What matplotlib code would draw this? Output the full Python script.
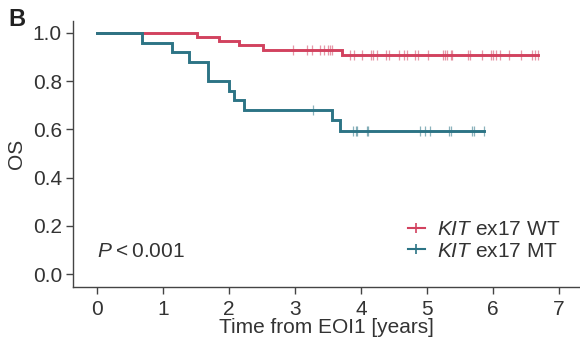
import numpy as np
import matplotlib
matplotlib.use('Agg')
import matplotlib.pyplot as plt
from matplotlib.lines import Line2D

plt.rcParams['font.family'] = ['Liberation Sans', 'DejaVu Sans']
plt.rcParams['mathtext.fontset'] = 'custom'
plt.rcParams['mathtext.it'] = 'Liberation Sans:italic'
plt.rcParams['mathtext.rm'] = 'Liberation Sans'

# Kaplan-Meier curves
wt_times = [0, 1.51, 1.85, 2.16, 2.51, 3.72]
wt_surv = [1.0, 0.985, 0.965, 0.949, 0.931, 0.908]
wt_end = 6.69
wt_censor = [2.97, 3.19, 3.26, 3.38, 3.44, 3.50, 3.53, 3.56, 3.84, 3.89, 4.02,
             4.15, 4.19, 4.25, 4.38, 4.42, 4.58, 4.66, 4.70, 4.82, 4.86, 5.02,
             5.25, 5.28, 5.31, 5.36, 5.38, 5.62, 5.65, 5.84, 5.97, 6.00, 6.05,
             6.11, 6.24, 6.43, 6.59, 6.64, 6.69]

mt_times = [0, 0.69, 1.14, 1.40, 1.69, 2.00, 2.08, 2.23, 3.57, 3.69]
mt_surv = [1.0, 0.96, 0.92, 0.88, 0.80, 0.76, 0.72, 0.68, 0.6375, 0.595]
mt_end = 5.86
mt_censor = [3.27, 3.88, 3.92, 3.94, 4.10, 4.11, 4.90, 4.97, 5.05, 5.33, 5.36,
             5.69, 5.71, 5.86]

red = '#D2425F'
teal = '#2C7485'
txt = '#333333'


def surv_at(times, surv, t):
    i = np.searchsorted(times, t, side='right') - 1
    return np.array(surv)[i]


fig = plt.figure(figsize=(5.8, 3.43), dpi=100)
ax = fig.add_axes([0.126, 0.163, 0.874, 0.776])

for times, surv, end, cens, c in [(wt_times, wt_surv, wt_end, wt_censor, red),
                                  (mt_times, mt_surv, mt_end, mt_censor, teal)]:
    x = list(times) + [end]
    y = list(surv) + [surv[-1]]
    ax.step(x, y, where='post', color=c, lw=2.1, solid_joinstyle='miter')
    ax.plot(cens, surv_at(times, surv, cens), ls='none', marker='|',
            ms=7, mew=0.9, color=c, alpha=0.55)

ax.set_xlim(-0.36, 7.32)
ax.set_ylim(-0.054, 1.05)
ax.set_xticks(range(8))
ax.set_yticks([0, 0.2, 0.4, 0.6, 0.8, 1.0])
ax.set_yticklabels(['0.0', '0.2', '0.4', '0.6', '0.8', '1.0'])
for s in ['top', 'right']:
    ax.spines[s].set_visible(False)
for s in ['left', 'bottom']:
    ax.spines[s].set_color('#444444')
    ax.spines[s].set_linewidth(1)
ax.tick_params(colors='#444444', labelcolor=txt, labelsize=15, length=5,
               width=1)
ax.tick_params(axis='x', pad=4.5)
ax.tick_params(axis='y', pad=3)
ax.set_xlabel('Time from EOI1 [years]', fontsize=15, color=txt, va='center')
ax.xaxis.set_label_coords(0.5, -0.153)
ax.set_ylabel('OS', fontsize=15, color=txt, labelpad=5)

ax.text(0.047, 0.113, '$P$\u2009<\u20090.001', fontsize=15, color=txt,
        va='baseline', transform=ax.transAxes)

handles = [Line2D([], [], color=red, lw=1.5, marker='|', ms=7, mew=1.2),
           Line2D([], [], color=teal, lw=1.5, marker='|', ms=7, mew=1.2)]
ax.legend(handles, ['$KIT$ ex17 WT', '$KIT$ ex17 MT'], loc='lower right',
          bbox_to_anchor=(0.99, 0.045), frameon=False, fontsize=15,
          handlelength=0.8, handletextpad=0.6, labelspacing=0.1,
          labelcolor=txt, borderpad=0.2)

fig.text(0.014, 0.925, 'B', fontsize=17, fontweight='bold', color='#222222')

fig.savefig('out.png', dpi=100)
